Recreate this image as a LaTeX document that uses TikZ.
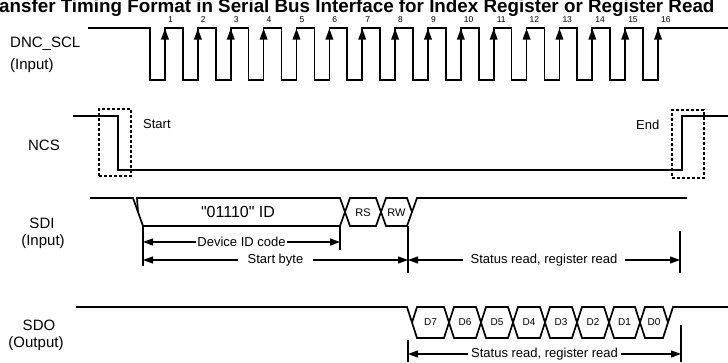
\documentclass[tikz,border=0pt]{standalone}
\usepackage{fontspec}
\setmainfont{Liberation Sans}
\usetikzlibrary{arrows.meta}
\begin{document}
\begin{tikzpicture}[x=1pt,y=-1pt]
	\tikzset{sig/.style = {line width=1.7pt, line join=miter},
		lbl/.style = {font=\fontsize{15}{17}\selectfont, inner sep=0pt, anchor=base},
		num/.style = {font=\fontsize{8.5}{10}\selectfont, inner sep=0pt, anchor=base west},
		txt/.style = {font=\fontsize{13}{15}\selectfont, inner sep=0pt},
		bus/.style = {font=\fontsize{11}{13}\selectfont, inner sep=0pt},
		rise/.style = {line width=1.7pt, -{Triangle[length=11pt,width=7.5pt]}},
		dim/.style = {line width=1.2pt, {Triangle[length=10pt,width=7pt]}-{Triangle[length=10pt,width=7pt]}},
		dimtxt/.style = {font=\fontsize{13}{15}\selectfont, fill=white, inner ysep=1pt},
		tick/.style = {line width=1.2pt},
		dbox/.style = {draw, line width=1.2pt, dash pattern=on 3pt off 2pt, inner sep=0pt}}
	\useasboundingbox (0,0) rectangle (728,362);

	% title, cut at the page edge
	\node[anchor=base west, inner sep=0pt, font=\bfseries\fontsize{18.8}{21}\selectfont] (title) at (-1,12.5) {ansfer Timing Format in Serial Bus Interface for Index Register or Register Read};

	% signal names
	\node[lbl, anchor=base west] (scl) at (10,47) {DNC\_SCL};
	\node[lbl, anchor=base west] (sclio) at (10,69) {(Input)};
	\node[lbl] (ncs) at (44,150) {NCS};
	\node[lbl] (sdi) at (42,228) {SDI};
	\node[lbl] (sdiio) at (43,245) {(Input)};
	\node[lbl] (sdo) at (39,330) {SDO};
	\node[lbl] (sdoio) at (36,347) {(Output)};

	% DNC_SCL
	\draw[sig] (88,28) \foreach \k in {0,...,15} { -- ({150+32.87*\k},28) -- ({150+32.87*\k},80) -- ({165+32.87*\k},80) -- ({165+32.87*\k},28) } -- (728,28);
	\foreach \k in {1,...,16} {
		\draw[rise] ({132.13+32.87*\k},70) -- ({132.13+32.87*\k},28.5);
		\node[num] (n\k) at ({135+32.87*\k},22.5) {\k};
	}

	% NCS
	\draw[sig] (73,116) -- (118,116) -- (118,170) -- (682,170) -- (682,116) -- (728,116);
	\node[dbox, minimum width=32pt, minimum height=67pt] (startbox) at (115,142.5) {};
	\node[dbox, minimum width=32pt, minimum height=68pt] (endbox) at (688,144) {};
	\node[txt, anchor=base west] (start) at (143,128) {Start};
	\node[txt, anchor=base west] (end) at (636,129) {End};

	% SDI
	\draw[sig] (90,198) -- (133,198) -- (143,226) -- (340,226) -- (350,198) -- (376,198) -- (386,226) -- (407,226) -- (417,198) -- (687,198);
	\draw[sig] (138,212) -- (137,198) -- (340,198) -- (350,226) -- (376,226) -- (386,198) -- (407,198) -- (412,212);
	\node[txt, font=\fontsize{16}{18}\selectfont] (id) at (238,212) {\textquotedbl01110\textquotedbl\ ID};
	\node[bus] (rs) at (363,212.5) {RS};
	\node[bus] (rw) at (396.5,212.5) {RW};

	\draw[tick] (143,226) -- (143,266);
	\draw[tick] (340,226) -- (340,250);
	\draw[tick] (408,226) -- (408,273);
	\draw[tick] (680,231) -- (680,273);
	\coordinate (idL) at (143,242);
	\coordinate (idR) at (340,242);
	\coordinate (sbL) at (143,260);
	\coordinate (sbR) at (408,260);
	\coordinate (srL) at (408,260);
	\coordinate (srR) at (680,260);
	\draw[dim] (idL) -- node[dimtxt, inner xsep=1.5pt] (idtxt) {Device ID code} (idR);
	\draw[dim] (sbL) -- node[dimtxt, inner xsep=10pt] (sbtxt) {Start byte} (sbR);
	\draw[dim] (srL) -- node[dimtxt, inner xsep=8pt] (srtxt) {Status read, register read} (srR);

	% SDO
	\draw[sig] (76,307) -- (407,307) -- (417,338) -- (444,338) -- (454,307) -- (476,307) -- (486,338) -- (508,338) -- (518,307) -- (540,307) -- (550,338) -- (572,338) -- (582,307) -- (604,307) -- (614,338) -- (635,338) -- (645,307) -- (663,307) -- (668,322.5);
	\draw[sig] (412,322.5) -- (417,307) -- (444,307) -- (454,338) -- (476,338) -- (486,307) -- (508,307) -- (518,338) -- (540,338) -- (550,307) -- (572,307) -- (582,338) -- (604,338) -- (614,307) -- (635,307) -- (645,338) -- (663,338) -- (673,307) -- (728,307);
	\node[bus, font=\fontsize{10}{12}\selectfont] (d7) at (430.5,322.5) {D7};
	\node[bus, font=\fontsize{10}{12}\selectfont] (d6) at (465,322.5) {D6};
	\node[bus, font=\fontsize{10}{12}\selectfont] (d5) at (497,322.5) {D5};
	\node[bus, font=\fontsize{10}{12}\selectfont] (d4) at (529,322.5) {D4};
	\node[bus, font=\fontsize{10}{12}\selectfont] (d3) at (561,322.5) {D3};
	\node[bus, font=\fontsize{10}{12}\selectfont] (d2) at (593,322.5) {D2};
	\node[bus, font=\fontsize{10}{12}\selectfont] (d1) at (624.5,322.5) {D1};
	\node[bus, font=\fontsize{10}{12}\selectfont] (d0) at (654,322.5) {D0};

	\draw[tick] (408,340) -- (408,362);
	\draw[tick] (681,325) -- (681,362);
	\coordinate (soL) at (408,354);
	\coordinate (soR) at (681,354);
	\draw[dim] (soL) -- node[dimtxt, inner xsep=3pt] (sotxt) {Status read, register read} (soR);

\end{tikzpicture}
\end{document}
